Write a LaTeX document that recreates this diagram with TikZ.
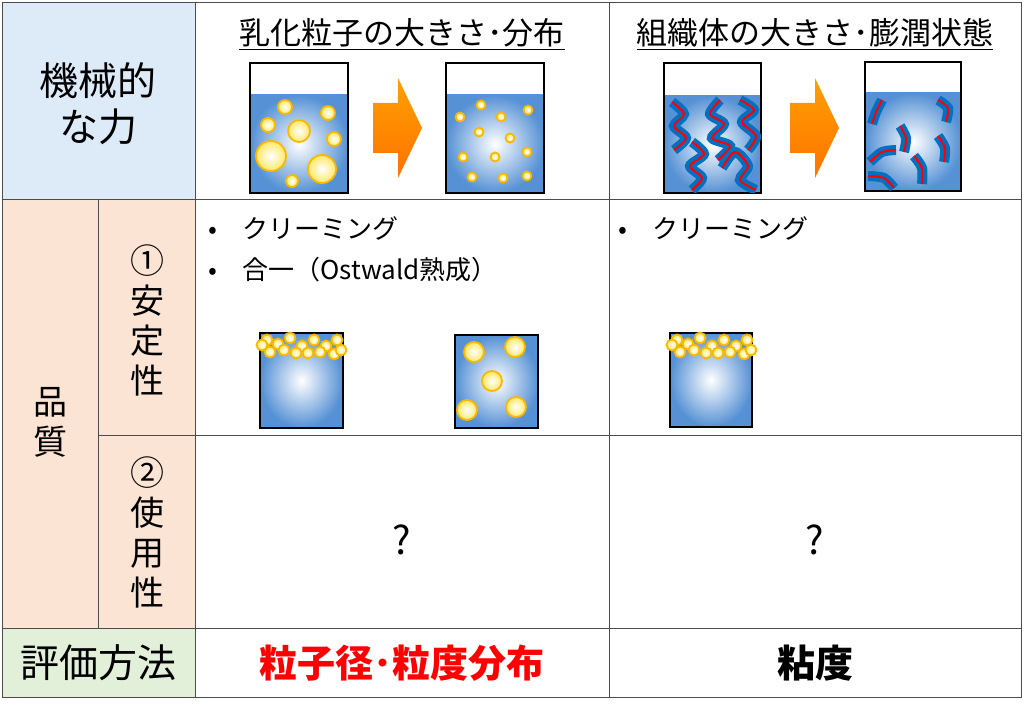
\documentclass[tikz,border=0pt]{standalone}
\usepackage{fontspec}
\setmainfont{Noto Sans CJK JP}
\definecolor{hdblue}{RGB}{221,234,248}
\definecolor{hdorange}{RGB}{252,228,212}
\definecolor{hdgreen}{RGB}{226,240,218}
\definecolor{water}{RGB}{85,145,212}
\definecolor{ballrim}{RGB}{250,185,0}
\definecolor{wormblue}{RGB}{0,112,192}
\newcommand{\beaker}[5]{%
  \shade[inner color=white, outer color=water] (#1,#5) rectangle (#3,#4);
  \draw[line width=2pt] (#1,#2) rectangle (#3,#4);}
\newcommand{\ball}[3]{\shade[inner color=white, outer color=yellow!70!orange!60] (#1,#2) circle (#3);
  \draw[ballrim, line width=1.8pt] (#1,#2) circle (#3);}
\newcommand{\worm}[1]{\draw[wormblue, line width=10pt] plot[smooth] coordinates {#1};
  \draw[red, line width=2pt] plot[smooth] coordinates {#1};}
\newcommand{\pusharrow}[2]{\shade[pushar, shift={(#1,#2)}]
  (-24,-25) -- (1,-25) -- (1,-50) -- (25,0) -- (1,50) -- (1,25) -- (-24,25) -- cycle;}
\begin{document}
\begin{tikzpicture}[x=1pt, y=-1pt,
    grid/.style={draw=black!70, line width=0.8pt},
    label/.style={font=\fontsize{39}{46}\selectfont, align=center},
    tall/.style={font=\fontsize{34}{40}\selectfont, align=center},
    header/.style={font=\fontsize{31}{36}\selectfont},
    item/.style={font=\fontsize{26}{30}\selectfont, anchor=west},
    pushar/.style={top color=orange!75!yellow, bottom color=orange!90!red}
]
\useasboundingbox (0,0) rectangle (1024,711);

% Zellenhintergrund
\fill[hdblue] (2,2) rectangle (195,199);
\fill[hdorange] (2,199) rectangle (195,628);
\fill[hdgreen] (2,628) rectangle (195,697);

% Raster
\draw[grid] (2,2) rectangle (1021,697);
\draw[grid] (195,2) -- (195,697);
\draw[grid] (609,2) -- (609,697);
\draw[grid] (98,199) -- (98,628);
\draw[grid] (2,199) -- (1021,199);
\draw[grid] (98,435) -- (1021,435);
\draw[grid] (2,628) -- (1021,628);

% Kopfzeile
\node[label] (force) at (98,104) {機械的\\な力};
\node[header] (emul) at (402,34) {\underline{乳化粒子の大きさ･分布}};
\node[header] (tissue) at (815,34) {\underline{組織体の大きさ･膨潤状態}};

% Emulsion: vorher / nachher
\beaker{250}{63}{348}{193}{95}
\ball{285}{107}{7} \ball{328}{113}{7} \ball{268}{125}{7}
\ball{299}{131}{11} \ball{334}{139}{7} \ball{271}{156}{15}
\ball{322}{169}{14} \ball{292}{181}{6}
\pusharrow{397}{128}
\beaker{446}{63}{544}{193}{95}
\foreach \bx/\by in {481/105,528/110,460/117,501/117,479/132,510/138,527/152,463/157,495/157,472/177,503/178,527/176}
  {\ball{\bx}{\by}{4.5}}

% Gewebe: vorher / nachher
\beaker{664}{63}{761}{193}{96}
\begin{scope}
\clip (664,96) rectangle (761,193);
\worm{(672,102) (684,114) (674,126) (686,138) (674,150)}
\worm{(720,100) (710,114) (724,124) (712,138) (730,146) (718,160)}
\worm{(740,100) (754,110) (742,122) (756,136) (748,150)}
\worm{(692,142) (704,154) (690,166) (702,178) (692,190)}
\worm{(722,168) (735,152) (748,166) (740,180) (756,190)}
\end{scope}
\pusharrow{814}{128}
\beaker{865}{62}{961}{191}{93}
\begin{scope}
\clip (865,93) rectangle (961,191);
\worm{(882,100) (876,112) (872,124)}
\worm{(938,100) (948,108) (946,122)}
\worm{(900,126) (906,138) (904,152)}
\worm{(938,136) (945,148) (944,162)}
\worm{(870,162) (882,152) (896,150)}
\worm{(914,156) (922,168) (922,184)}
\worm{(868,176) (884,178) (894,188)}
\end{scope}

% Qualitaet
\node[tall] (quality) at (50,422) {品\\質};
\node[tall] (stab) at (147,320) {①\\安\\定\\性};
\node[tall] (usab) at (147,532) {②\\使\\用\\性};

\node[item] (b1) at (205,228) {•\hspace{25pt}クリーミング};
\node[item] (b2) at (205,270) {•\hspace{25pt}合一（Ostwald熟成）};
\node[item] (b3) at (615,228) {•\hspace{25pt}クリーミング};

% Aufgerahmt / koalesziert
\beaker{260}{333}{343}{428}{333}
\foreach \bx/\by in {267/340,278/344,290/338,302/346,314/340,326/346,337/340,270/352,284/350,296/353,320/352,334/354,308/353,262/345,341/350}
  {\ball{\bx}{\by}{5.5}}
\beaker{455}{335}{538}{428}{335}
\ball{474}{352}{10} \ball{515}{347}{10} \ball{492}{381}{10}
\ball{467}{410}{10} \ball{516}{407}{10}
\beaker{670}{333}{752}{427}{333}
\foreach \bx/\by in {677/340,688/344,700/338,712/346,724/340,736/346,747/340,680/352,694/350,706/353,730/352,744/354,718/353,672/345,751/350}
  {\ball{\bx}{\by}{5.5}}

\node[label] (q1) at (402,540) {?};
\node[label] (q2) at (815,540) {?};

% Bewertung
\node[label] (method) at (98,663) {評価方法};
\node[label, text=red, font=\fontsize{38}{44}\selectfont\bfseries] (size) at (402,663) {粒子径･粒度分布};
\node[label, font=\fontsize{38}{44}\selectfont\bfseries] (visc) at (815,663) {粘度};
\end{tikzpicture}
\end{document}
